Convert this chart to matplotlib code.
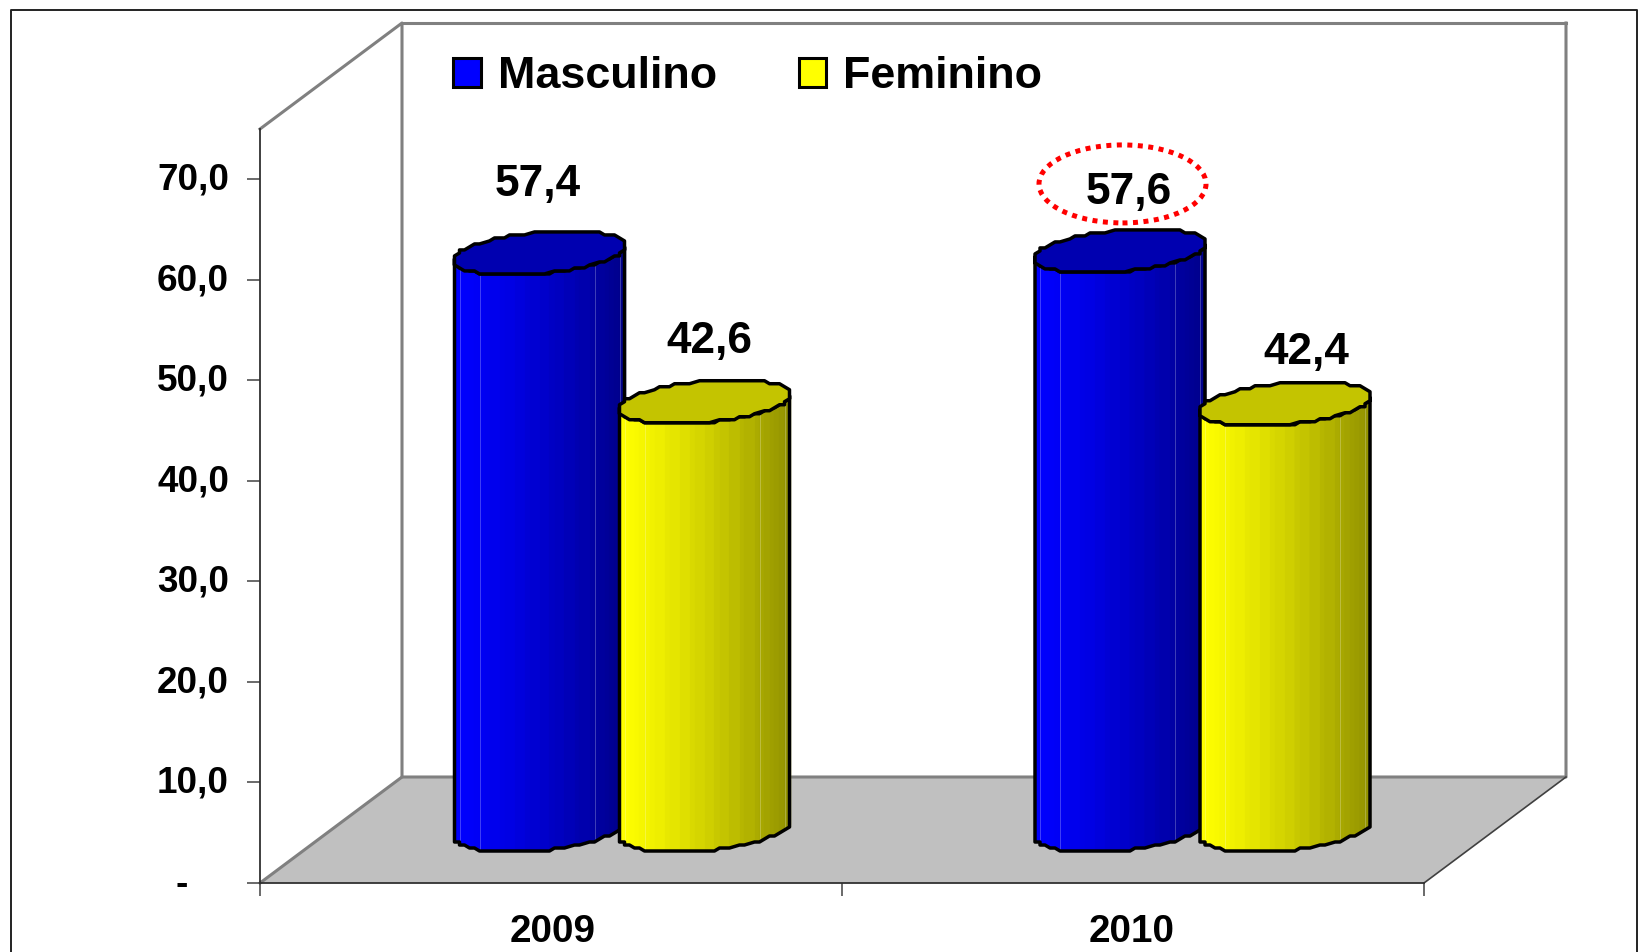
import numpy as np
import matplotlib
matplotlib.use('Agg')
import matplotlib.pyplot as plt
from matplotlib.colors import to_rgb
from matplotlib.patches import Ellipse, Polygon, Rectangle
from matplotlib.transforms import ScaledTranslation

plt.rcParams['font.family'] = ['Liberation Sans', 'DejaVu Sans']
plt.rcParams['font.weight'] = 'bold'

years = ['2009', '2010']
series_names = ['Masculino', 'Feminino']
masculino = [57.4, 57.6]
feminino = [42.6, 42.4]
y_ticks = [0, 10, 20, 30, 40, 50, 60, 70]
y_labels = ['-    ', '10,0', '20,0', '30,0', '40,0', '50,0', '60,0', '70,0']

W, H = 1646, 952
X_PX = 582.0      # pixels per category
Y_PX = 754 / 75   # pixels per value unit
DEPTH_X = 142 / X_PX
DEPTH_Y = 106 / Y_PX

# cylinder shape, in data units
RX = 81 / X_PX
VX = 29 / X_PX
VY = 22 / Y_PX
SERIES_OFFSET = 82.5 / X_PX
STEP_X = 5 / X_PX
STEP_Y = 3 / Y_PX

side_colors = [('#0000ff', '#000088'), ('#ffff00', '#909000')]
top_colors = ['#0000b0', '#c4c400']
group_shift = [0, -1.5 / X_PX]
# label shift from bar centre (x in categories, y in value units)
label_dx = [[-2 / X_PX, 5 / X_PX], [8.5 / X_PX, 21 / X_PX]]
label_dy = [[68 / Y_PX, 60 / Y_PX], [58 / Y_PX, 51 / Y_PX]]


def ring(xc, yc, t):
    x = xc + np.round((RX * np.cos(t) + VX * np.sin(t)) / STEP_X) * STEP_X
    y = yc + np.round(VY * np.sin(t) / STEP_Y) * STEP_Y
    return x, y


def draw_cylinder(ax, xc, value, side, top, z):
    base = DEPTH_Y / 2
    t0 = np.arctan2(VX, RX)
    t = np.linspace(t0 + np.pi, t0 + 2 * np.pi, 33)
    xb, yb = ring(xc, base, t)
    xt, yt = ring(xc, base + value, t)
    c0, c1 = np.array(to_rgb(side[0])), np.array(to_rgb(side[1]))
    for i in range(len(t) - 1):
        f = (xb[i] - xb[0]) / (xb[-1] - xb[0])
        col = c0 + (c1 - c0) * f ** 1.2
        ax.add_patch(Polygon([(xb[i], yb[i]), (xb[i + 1], yb[i + 1]),
                              (xt[i + 1], yt[i + 1]), (xt[i], yt[i])],
                             closed=True, facecolor=col, edgecolor=col,
                             linewidth=0.8, zorder=z, clip_on=False))
    # thin light facet lines
    for i in [3, 8, 23, 28]:
        ax.plot([xb[i], xt[i]], [yb[i], yt[i]], color='white', alpha=0.25,
                linewidth=0.7, zorder=z + 0.1, clip_on=False)
    ox = np.concatenate([xb, xt[::-1]])
    oy = np.concatenate([yb, yt[::-1]])
    ax.add_patch(Polygon(np.column_stack([ox, oy]), closed=True, fill=False,
                         edgecolor='black', linewidth=2.5, zorder=z + 0.2,
                         joinstyle='round', clip_on=False))
    tt = np.linspace(0, 2 * np.pi, 65)[:-1]
    xe, ye = ring(xc, base + value, tt)
    ax.add_patch(Polygon(np.column_stack([xe, ye]), closed=True,
                         facecolor=top, edgecolor='black', linewidth=2.5,
                         zorder=z + 0.3, joinstyle='round', clip_on=False))


fig = plt.figure(figsize=(W / 100, H / 100), dpi=100, facecolor='white')
ax = fig.add_axes([260 / W, 1 - 883 / H, 1164 / W, 754 / H])
ax.set_xlim(0, 2)
ax.set_ylim(0, 75)
ax.patch.set_visible(False)

# outer frame (open at the bottom, the image is cut there)
fig.add_artist(plt.Line2D([11 / W, 11 / W, 1637 / W, 1637 / W],
                          [0, 1 - 10 / H, 1 - 10 / H, 0],
                          color='#222222', linewidth=1.4))

# floor and walls
ax.add_patch(Polygon([(0, 0), (DEPTH_X, DEPTH_Y), (2 + DEPTH_X, DEPTH_Y), (2, 0)],
                     closed=True, facecolor='#c0c0c0', edgecolor='none',
                     zorder=1, clip_on=False))
ax.plot([0, DEPTH_X, DEPTH_X, 2 + DEPTH_X, 2 + DEPTH_X],
        [75, 75 + DEPTH_Y, DEPTH_Y, DEPTH_Y, 75 + DEPTH_Y],
        color='#808080', linewidth=2.2, zorder=1.5, clip_on=False)
ax.plot([DEPTH_X, 2 + DEPTH_X], [75 + DEPTH_Y, 75 + DEPTH_Y],
        color='#808080', linewidth=2.2, zorder=1.5, clip_on=False)
ax.plot([0, DEPTH_X], [0, DEPTH_Y], color='#808080', linewidth=2.2,
        zorder=1.5, clip_on=False)
ax.plot([2, 2 + DEPTH_X], [0, DEPTH_Y], color='#404040', linewidth=1.2,
        zorder=1.5, clip_on=False)

# axes
for name in ['top', 'right']:
    ax.spines[name].set_visible(False)
for name in ['left', 'bottom']:
    ax.spines[name].set_color('#303030')
    ax.spines[name].set_linewidth(1.3)
    ax.spines[name].set_zorder(2)
ax.set_yticks(y_ticks)
ax.set_yticklabels(y_labels, fontsize=26.6, fontweight='bold')
ax.set_xticks([0, 1, 2])
ax.set_xticklabels([])
ax.set_xticks([0.503, 1.497], minor=True)
ax.set_xticklabels(years, minor=True, fontsize=27.8, fontweight='bold')
ax.tick_params(axis='y', direction='out', length=9.4, width=1.2, color='#505050', pad=13)
ax.tick_params(axis='x', which='major', direction='out', length=9.4, width=1.2, color='#505050')
ax.tick_params(axis='x', which='minor', length=0, pad=22)
for lab in ax.get_yticklabels():
    lab.set_transform(lab.get_transform() + ScaledTranslation(0, 3 / 100, fig.dpi_scale_trans))

# bars and their value labels
for i, year in enumerate(years):
    group = i + 0.5 + DEPTH_X / 2 + group_shift[i]
    for s, values in enumerate([masculino, feminino]):
        xc = group + (2 * s - 1) * SERIES_OFFSET
        draw_cylinder(ax, xc, values[i], side_colors[s], top_colors[s], 3 + i * 2 + s)
        label = f'{values[i]:.1f}'.replace('.', ',')
        ax.text(xc + label_dx[i][s],
                values[i] + DEPTH_Y / 2 + label_dy[i][s], label,
                ha='center', va='center', fontsize=31.8, fontweight='bold',
                color='black', zorder=9)

# red dotted highlight round the 2010 value
ax.add_patch(Ellipse((0.5 + 1 + DEPTH_X / 2 - SERIES_OFFSET + 1 / X_PX,
                      masculino[1] + DEPTH_Y / 2 + 67 / Y_PX),
                     167 / X_PX, 78 / Y_PX, fill=False, edgecolor='#ff0000',
                     linewidth=3.6, linestyle=(0, (1, 1.1)), zorder=10,
                     clip_on=False))

handles = [Rectangle((0, 0), 1, 1, facecolor=c[0], edgecolor='black', linewidth=2.2)
           for c in side_colors]
ax.legend(handles, series_names, ncol=2, frameon=False, fontsize=32.3,
          loc='center left', bbox_to_anchor=(453 / W, 1 - 77 / H),
          bbox_transform=fig.transFigure, borderaxespad=0, borderpad=0,
          handlelength=0.62, handleheight=0.62, handletextpad=0.38,
          columnspacing=1.82, labelspacing=0)

fig.savefig('out.png', dpi=100)
